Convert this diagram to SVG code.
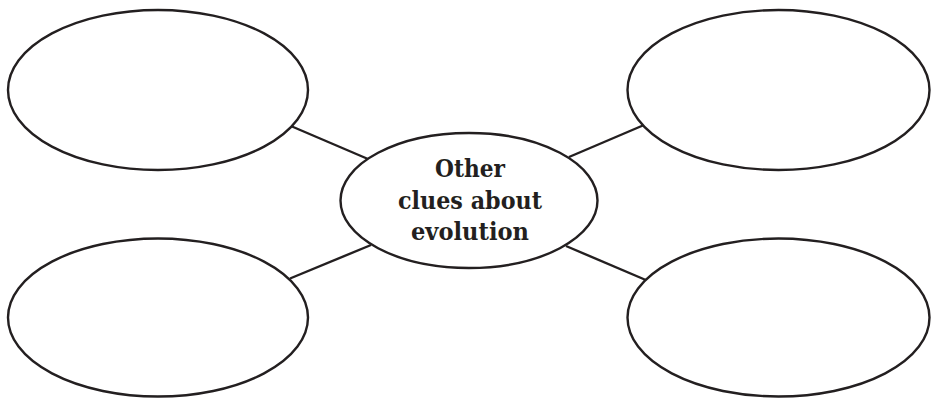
<svg xmlns="http://www.w3.org/2000/svg" width="938" height="398" viewBox="0 0 938 398">
<style>
.n{fill:#fff;stroke:#231f20;stroke-width:2.4}
.c{stroke:#231f20;stroke-width:2.4;fill:none}
.t{font-family:"DejaVu Serif","Liberation Serif",serif;font-weight:bold;font-size:23.5px;fill:#231f20;text-anchor:middle}
</style>
<rect width="938" height="398" fill="#fff"/>
<g id="connectors">
<line class="c" x1="292" y1="126.5" x2="368" y2="159"/>
<line class="c" x1="290" y1="278.5" x2="371" y2="245"/>
<line class="c" x1="569" y1="157" x2="644" y2="125"/>
<line class="c" x1="566" y1="246" x2="647" y2="280.5"/>
</g>
<g id="top-left"><ellipse class="n" cx="158" cy="90" rx="150" ry="80"/></g>
<g id="bottom-left"><ellipse class="n" cx="158" cy="317.5" rx="150" ry="79"/></g>
<g id="top-right"><ellipse class="n" cx="778.5" cy="90" rx="151" ry="80"/></g>
<g id="bottom-right"><ellipse class="n" cx="778.5" cy="317.5" rx="151" ry="79"/></g>
<g id="center">
<ellipse class="n" cx="469" cy="200.5" rx="128.5" ry="67.5"/>
<text class="t" x="470" y="176.5" textLength="70" lengthAdjust="spacingAndGlyphs">Other</text>
<text class="t" x="470" y="208.5" textLength="144" lengthAdjust="spacingAndGlyphs">clues about</text>
<text class="t" x="470" y="240" textLength="118" lengthAdjust="spacingAndGlyphs">evolution</text>
</g>
</svg>
